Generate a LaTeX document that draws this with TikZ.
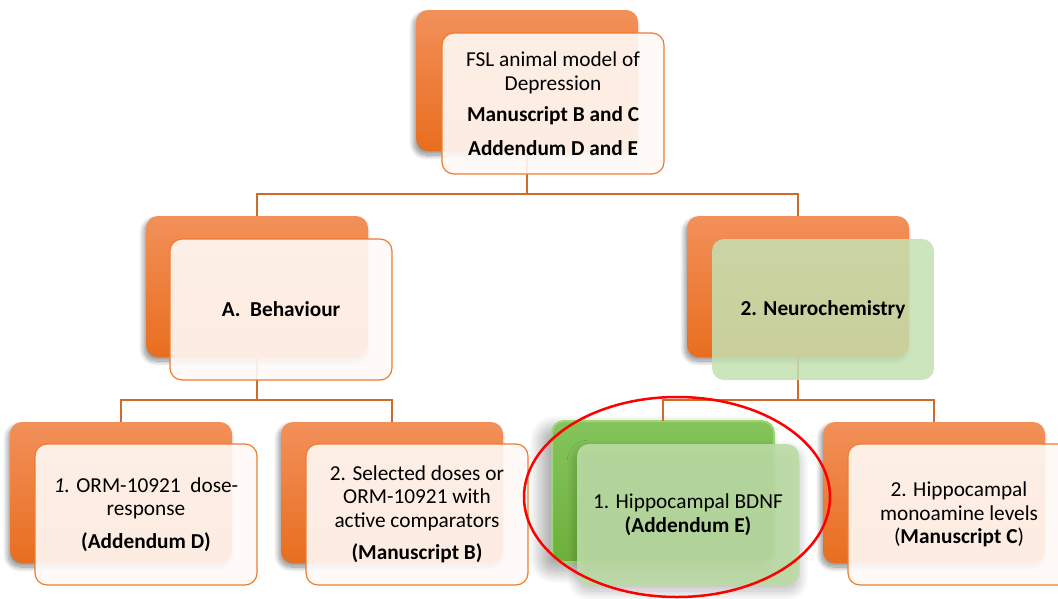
\documentclass[tikz,border=0pt]{standalone}
\usepackage{fontspec}
\setmainfont{Carlito}
\usetikzlibrary{shadows.blur,shapes.geometric}

\definecolor{orTop}{RGB}{242,144,90}
\definecolor{orBot}{RGB}{232,110,30}
\definecolor{link}{RGB}{206,106,44}
\definecolor{frontline}{RGB}{237,125,49}
\definecolor{peach}{RGB}{255,250,247}
\definecolor{mint}{RGB}{196,225,178}
\definecolor{leaf}{RGB}{188,220,165}
\definecolor{grTop}{RGB}{132,196,92}
\definecolor{grBot}{RGB}{110,176,60}
\definecolor{grEdge}{RGB}{158,214,118}

\tikzset{
  card/.style={anchor=north west, rounded corners=12pt, minimum width=222pt,
    minimum height=141pt, inner sep=0pt, outer sep=0pt},
  backbox/.style={card, top color=orTop, bottom color=orBot,
    blur shadow={shadow xshift=-2pt, shadow yshift=-4pt, shadow blur radius=5pt,
      shadow blur steps=12, shadow opacity=45}},
  greenback/.style={card, top color=grTop, bottom color=grBot, draw=grEdge, line width=2pt,
    blur shadow={shadow xshift=-9pt, shadow yshift=-8pt, shadow blur radius=14pt,
      shadow blur steps=25, shadow opacity=40}},
  frontbox/.style={card, fill=peach, fill opacity=0.9, draw=frontline, line width=1.2pt},
  mintbox/.style={card, fill=mint, fill opacity=0.85},
  leafbox/.style={card, fill=leaf, fill opacity=0.9,
    blur shadow={shadow xshift=0pt, shadow yshift=-6pt, shadow blur radius=10pt,
      shadow blur steps=20, shadow opacity=30}},
  connector/.style={draw=link, line width=2.4pt},
  lbl/.style={align=center, inner sep=0pt, font=\fontsize{21.3pt}{23.5pt}\selectfont},
  marker/.style={ellipse, draw=red, line width=2.5pt, minimum width=306pt, minimum height=200pt, inner sep=0pt}
}

\begin{document}
\begin{tikzpicture}[x=1pt, y=-1pt]
  \useasboundingbox (0,0) rectangle (1058,598);
  \clip (0,0) rectangle (1058,598);

  % back cards
  \node[backbox] (b0) at (416,10) {};
  \node[backbox] (bL) at (146,216) {};
  \node[backbox] (bR) at (687,216) {};
  \node[backbox] (b1) at (10,422) {};
  \node[backbox] (b2) at (281,422) {};
  \node[greenback] (b3) at (552,421) {};
  \node[backbox] (b4) at (823,422) {};

  % tree connectors
  \draw[connector] (b0.south) -- ++(0,43) -| (bL.north);
  \draw[connector] (b0.south) -- ++(0,43) -| (bR.north);
  \draw[connector] (bL.south) -- ++(0,43) -| (b1.north);
  \draw[connector] (bL.south) -- ++(0,43) -| (b2.north);
  \draw[connector] (bR.south) -- ++(0,43) -| (b3.north);
  \draw[connector] (bR.south) -- ++(0,43) -| (b4.north);

  % front cards
  \node[frontbox] (f0) at (442,33) {};
  \node[frontbox] (fL) at (170,239) {};
  \node[mintbox]  (fR) at (712,239) {};
  \node[frontbox] (f1) at (35,444) {};
  \node[frontbox] (f2) at (306,444) {};
  \node[leafbox]  (f3) at (577,444) {};
  \node[frontbox] (f4) at (848,444) {};

  % labels
  \node[lbl] (t0) at (f0.center) {FSL animal model of\\Depression\\[8pt]\textbf{Manuscript B and C}\\[10pt]\textbf{Addendum D and E}};
  \node[lbl] (tA) at (fL.center) {\textbf{A.\ \ Behaviour}};
  \node[lbl] (tB) at (fR.center) {\textbf{2. Neurochemistry}};
  \node[lbl] (t1) at (f1.center) {\textit{1.} ORM-10921\ \ dose-\\response\\[9pt]\textbf{(Addendum D)}};
  \node[lbl] (t2) at (f2.center) {2. Selected doses or\\ORM-10921 with\\active comparators\\[9pt]\textbf{(Manuscript B)}};
  \node[lbl] (t3) at (f3.center) {1. Hippocampal BDNF\\\textbf{(Addendum E)}};
  \node[lbl] (t4) at (f4.center) {2. Hippocampal\\monoamine levels\\(\textbf{Manuscript C})};

  % highlight ring
  \node[marker] (ring) at (677,497) {};
\end{tikzpicture}
\end{document}
